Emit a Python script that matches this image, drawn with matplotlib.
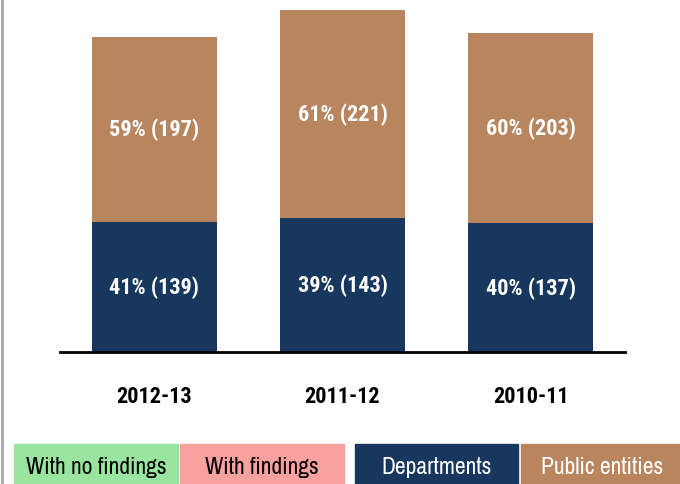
import matplotlib.pyplot as plt
from matplotlib.patches import Rectangle
from matplotlib.lines import Line2D

years = ["2012-13", "2011-12", "2010-11"]
departments = [139, 143, 137]
public_entities = [197, 221, 203]
dept_pct = [41, 39, 40]
public_pct = [59, 61, 60]

legend_labels = ["With no findings", "With findings", "Departments", "Public entities"]
legend_colors = ["#99E49F", "#F8A19F", "#17375E", "#B8855F"]
legend_text_colors = ["black", "black", "white", "white"]

BOLD_NARROW = ["Roboto Condensed", "Liberation Sans", "DejaVu Sans"]
NARROW = ["Archivo Narrow", "Liberation Sans", "DejaVu Sans"]
navy = "#17375E"
brown = "#B8855F"

W, H = 680, 485
fig = plt.figure(figsize=(W / 100, H / 100), dpi=100)
ax = fig.add_axes([60 / W, 1 - 353 / H, 565 / W, 353 / H])

x = range(len(years))
ax.bar(x, departments, width=0.663, color=navy)
ax.bar(x, public_entities, width=0.663, bottom=departments, color=brown)

for i in x:
    ax.text(i, departments[i] / 2, f"{dept_pct[i]}% ({departments[i]})",
            ha="center", va="center", color="white", fontsize=16,
            fontweight="bold", family=BOLD_NARROW)
    ax.text(i, departments[i] + public_entities[i] / 2,
            f"{public_pct[i]}% ({public_entities[i]})",
            ha="center", va="center", color="white", fontsize=16,
            fontweight="bold", family=BOLD_NARROW)

ax.set_xlim(-0.5, 2.5)
ax.set_ylim(0, 376)
for s in ["top", "right", "left"]:
    ax.spines[s].set_visible(False)
ax.spines["bottom"].set_linewidth(2)
ax.set_yticks([])
ax.set_xticks(list(x))
ax.set_xticklabels(years, fontsize=16, fontweight="bold", family=BOLD_NARROW)
ax.tick_params(axis="x", length=0, pad=24)

# legend strip along the bottom
edges = [(14, 178), (180, 344), (355, 518), (521, 684)]
for (x0, x1), lab, c, tc in zip(edges, legend_labels, legend_colors, legend_text_colors):
    fig.patches.append(Rectangle((x0 / W, 0), (x1 - x0) / W, (H - 445) / H,
                                 transform=fig.transFigure, color=c))
    fig.text((x0 + x1) / 2 / W, (H - 468) / H, lab, ha="center", va="center",
             color=tc, fontsize=17, family=NARROW)

# grey frame line on the left edge
fig.lines.append(Line2D([2 / W, 2 / W], [0, 1], transform=fig.transFigure,
                        color="#A6A6A6", lw=2))

fig.savefig("out.png", dpi=100)
